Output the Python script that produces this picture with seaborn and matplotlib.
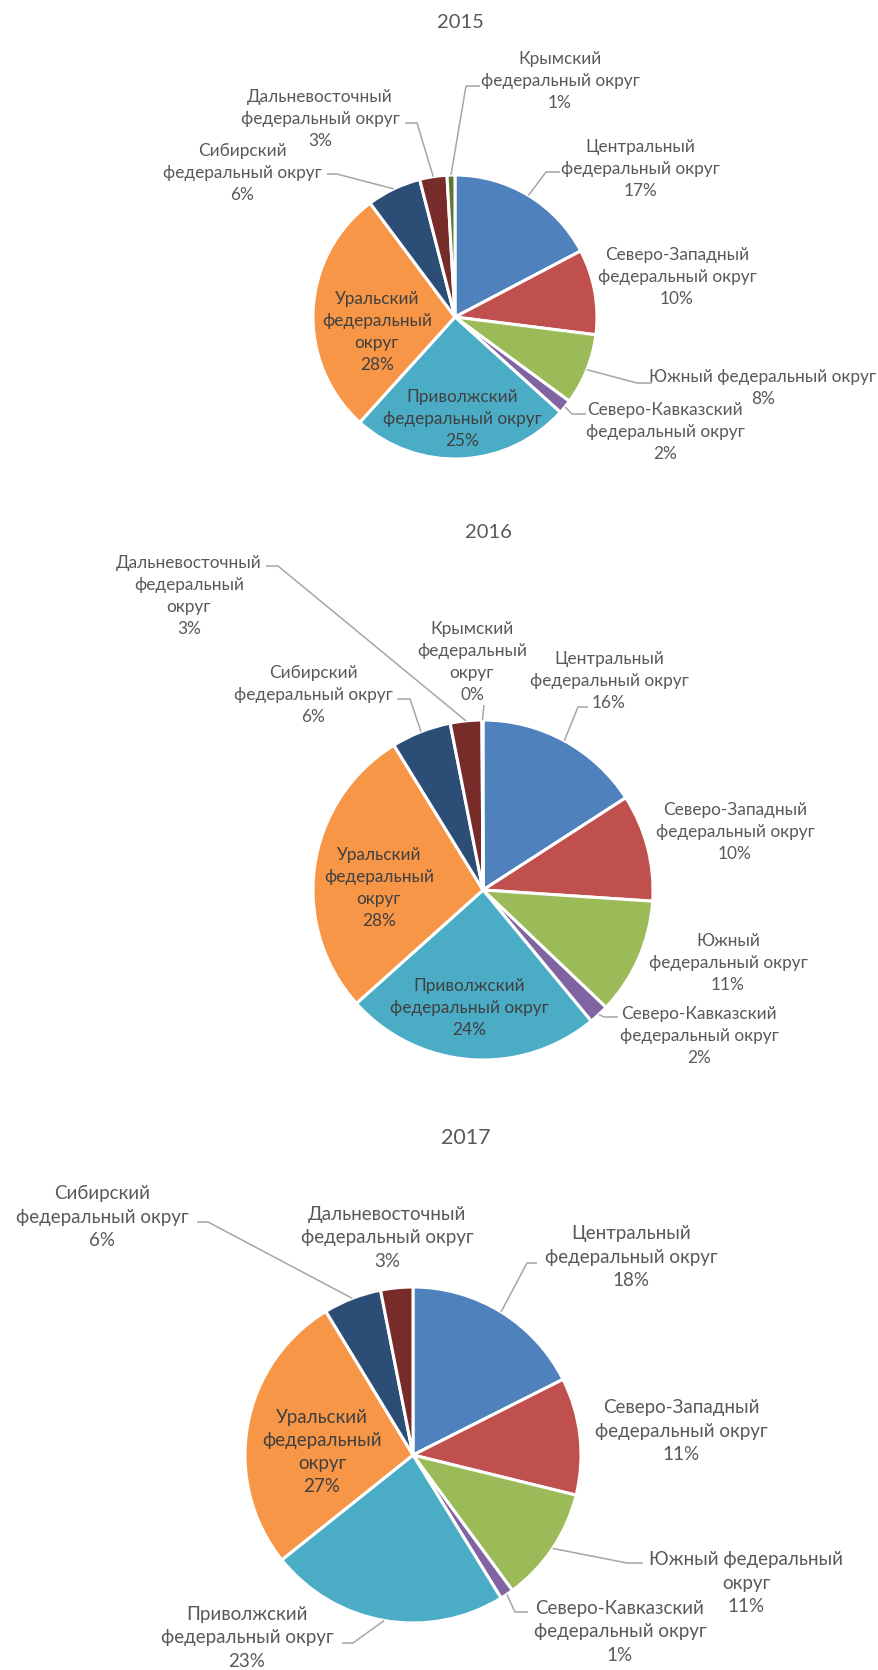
import numpy as np
import matplotlib
matplotlib.use('Agg')
import matplotlib.pyplot as plt
import seaborn as sns

# --- data ---
regions = ['Центральный', 'Северо-Западный', 'Южный', 'Северо-Кавказский', 'Приволжский',
           'Уральский', 'Сибирский', 'Дальневосточный', 'Крымский']
colors = ['#4F81BD', '#C0504D', '#9BBB59', '#8064A2', '#4BACC6',
          '#F79646', '#2C4D75', '#772C2A', '#5F7530']

years = ['2015', '2016', '2017']
values_2015 = [17.3, 9.7, 8.1, 1.6, 25.0, 28.1, 6.2, 3.1, 0.9]
values_2016 = [15.9, 10.2, 11.1, 1.9, 24.4, 27.9, 5.7, 3.0, 0.1]
values_2017 = [17.6, 11.3, 11.1, 1.3, 23.1, 27.1, 5.6, 3.1]

# how the label text breaks in each chart
names_2015 = ['Центральный\nфедеральный округ', 'Северо-Западный\nфедеральный округ',
              'Южный федеральный округ', 'Северо-Кавказский\nфедеральный округ',
              'Приволжский\nфедеральный округ', 'Уральский\nфедеральный\nокруг',
              'Сибирский\nфедеральный округ', 'Дальневосточный\nфедеральный округ',
              'Крымский\nфедеральный округ']
names_2016 = ['Центральный\nфедеральный округ', 'Северо-Западный\nфедеральный округ',
              'Южный\nфедеральный округ', 'Северо-Кавказский\nфедеральный округ',
              'Приволжский\nфедеральный округ', 'Уральский\nфедеральный\nокруг',
              'Сибирский\nфедеральный округ', 'Дальневосточный\nфедеральный\nокруг',
              'Крымский\nфедеральный\nокруг']
names_2017 = ['Центральный\nфедеральный округ', 'Северо-Западный\nфедеральный округ',
              'Южный федеральный\nокруг', 'Северо-Кавказский\nфедеральный округ',
              'Приволжский\nфедеральный округ', 'Уральский\nфедеральный\nокруг',
              'Сибирский\nфедеральный округ', 'Дальневосточный\nфедеральный округ']

# --- layout (pixel coordinates, y down) ---
W, H = 879, 1670
layout = {
    '2015': dict(center=(455, 317), radius=142, title=(460, 22), fs=12.4, tfs=14.5,
                 text=[(640, 169), (677, 277), (763, 388), (665, 432), (462, 419),
                       (377, 332), (242, 173), (320, 119), (560, 81)],
                 leader=[(546, 172, 560), None, (637, 383, 652), (572, 414, 586), None,
                         None, (337, 174, 327), (417, 123, 405), (466, 86, 480)],
                 inside=[4, 5]),
    '2016': dict(center=(483, 890), radius=170, title=(488, 532), fs=12.4, tfs=14.5,
                 text=[(609, 681), (735, 832), (728, 963), (699, 1036), (469, 1008),
                       (379, 888), (313, 695), (189, 596), (472, 662)],
                 leader=[(578, 707, 588), None, None, (604, 1017, 618), None,
                         None, (410, 699, 397), (278, 566, 266), (484, 705, 484)],
                 inside=[4, 5]),
    '2017': dict(center=(413, 1455), radius=168, title=(466, 1138), fs=13.5, tfs=15.5,
                 text=[(631, 1257), (681, 1431), (746, 1583), (620, 1632), (247, 1638),
                       (322, 1452), (102, 1217), (387, 1238)],
                 leader=[(527, 1263, 537), None, (627, 1563, 643), (515, 1612, 528),
                         (353, 1643, 342), None, (208, 1222, 197), None],
                 inside=[5]),
}

sns.set_theme(style='white')
plt.rcParams['font.family'] = ['Lato', 'DejaVu Sans']

fig = plt.figure(figsize=(W / 100, H / 100), dpi=100)
ax = fig.add_axes([0, 0, 1, 1])

series = {'2015': (values_2015, names_2015),
          '2016': (values_2016, names_2016),
          '2017': (values_2017, names_2017)}

for year in years:
    vals, names = series[year]
    lay = layout[year]
    cx, cy = lay['center']
    r = lay['radius']
    # y axis is inverted, so start at -90 and go counterclock in data = clockwise on screen
    wedges, _ = ax.pie(vals, colors=colors[:len(vals)], startangle=-90, counterclock=True,
                       center=(cx, cy), radius=r,
                       wedgeprops=dict(edgecolor='white', linewidth=2.2))
    total = sum(vals)
    for i, w in enumerate(wedges):
        pct = round(vals[i] / total * 100)
        label = names[i] + '\n' + f'{pct}%'
        tx, ty = lay['text'][i]
        col = '#404040' if i in lay['inside'] else '#595959'
        ax.text(tx, ty, label, ha='center', va='center', multialignment='center',
                fontsize=lay['fs'], color=col, linespacing=1.45)
        ld = lay['leader'][i]
        if ld is not None:
            # leader starts on the slice edge at its middle angle
            th = np.deg2rad((w.theta1 + w.theta2) / 2)
            x0 = cx + r * np.cos(th)
            y0 = cy + r * np.sin(th)
            ex, ey, sx = ld
            ax.plot([x0, ex, sx], [y0, ey, ey], color='#A6A6A6', lw=1.1,
                    solid_capstyle='butt')
    ax.text(lay['title'][0], lay['title'][1], year, ha='center', va='center',
            fontsize=lay['tfs'], color='#595959')

ax.set_xlim(0, W)
ax.set_ylim(H, 0)
ax.set_aspect('auto')
ax.axis('off')

fig.savefig('out.png', dpi=100)
